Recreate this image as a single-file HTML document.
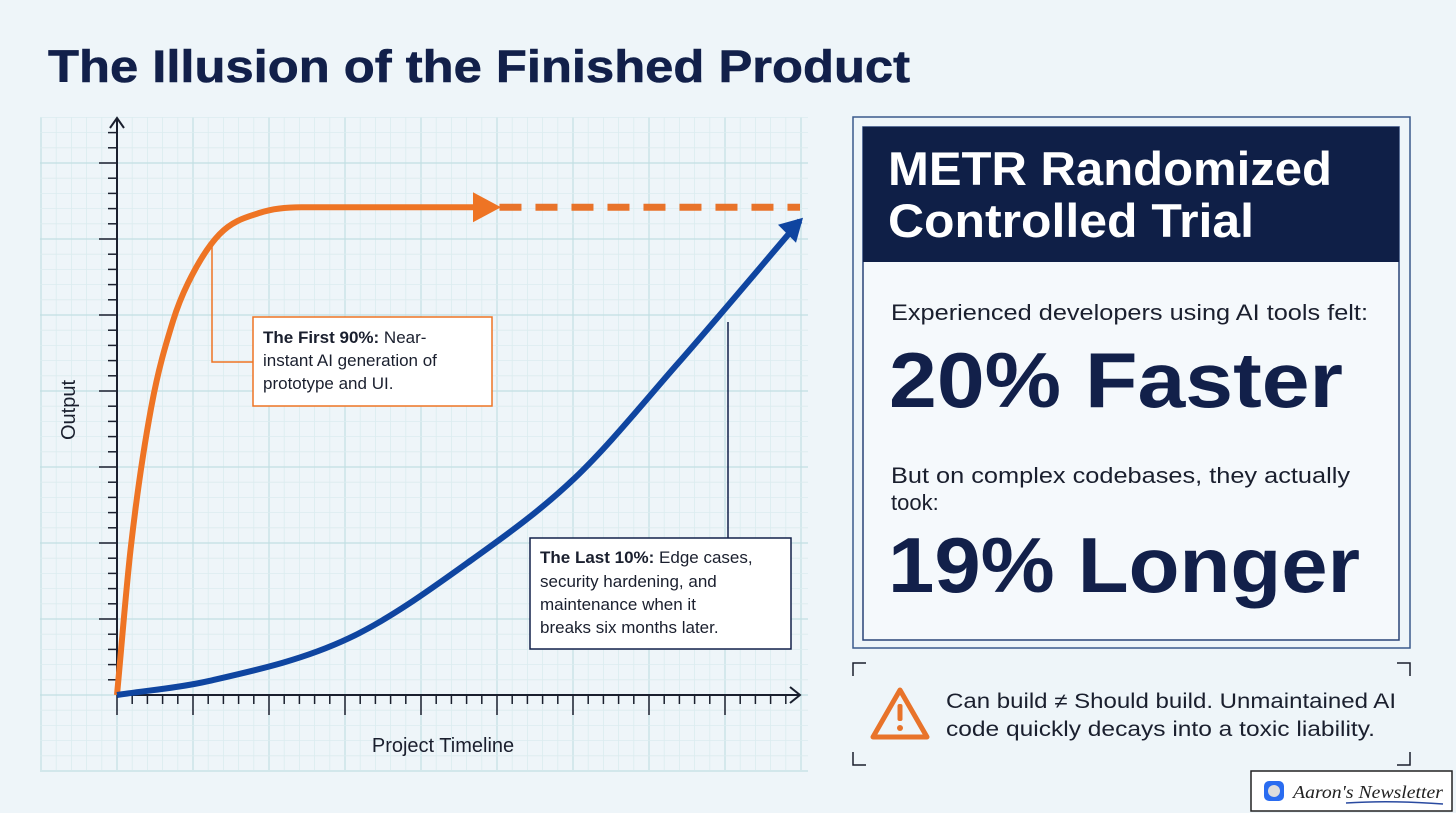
<!DOCTYPE html>
<html><head><meta charset="utf-8">
<style>
html,body{margin:0;padding:0;background:#eef5f9;}
svg{display:block;font-family:"Liberation Sans",sans-serif;}
</style></head>
<body>
<svg id="chart" width="1456" height="813" viewBox="0 0 1456 813" xmlns="http://www.w3.org/2000/svg">
<rect width="1456" height="813" fill="#eef5f9"/>
<text x="48" y="82" font-size="45" font-weight="bold" fill="#12204a" stroke="#12204a" stroke-width="0.6" textLength="862" lengthAdjust="spacingAndGlyphs">The Illusion of the Finished Product</text>
<g id="grid"></g>
<g id="marks"></g>

<rect x="853" y="117" width="557" height="531" fill="none" stroke="#3a5a8c" stroke-width="1.5"/>
<rect x="863" y="127" width="536" height="513" fill="#f5f9fc" stroke="#2a4478" stroke-width="1.5"/>
<rect x="863" y="127" width="536" height="135" fill="#0f1f47"/>
<text x="888" y="185" font-size="47" font-weight="bold" fill="#fff" textLength="444" lengthAdjust="spacingAndGlyphs">METR Randomized</text>
<text x="888" y="237" font-size="47" font-weight="bold" fill="#fff" textLength="366" lengthAdjust="spacingAndGlyphs">Controlled Trial</text>
<text x="891" y="320" font-size="22" fill="#1a1f2e" textLength="477" lengthAdjust="spacingAndGlyphs">Experienced developers using AI tools felt:</text>
<text x="889" y="407" font-size="78" font-weight="bold" fill="#12204a" textLength="454" lengthAdjust="spacingAndGlyphs">20% Faster</text>
<text x="891" y="483" font-size="22" fill="#1a1f2e" textLength="459" lengthAdjust="spacingAndGlyphs">But on complex codebases, they actually</text>
<text x="891" y="510" font-size="22" fill="#1a1f2e">took:</text>
<text x="888" y="592" font-size="78" font-weight="bold" fill="#12204a" textLength="472" lengthAdjust="spacingAndGlyphs">19% Longer</text>

<g stroke="#1a1f2e" stroke-width="1.5" fill="none">
<path d="M853,676 V663 H866"/><path d="M1397,663 H1410 V676"/>
<path d="M853,752 V765 H866"/><path d="M1397,765 H1410 V752"/>
</g>
<g>
<path d="M900,690 L927,737 L873,737 Z" fill="none" stroke="#e8732a" stroke-width="5" stroke-linejoin="round"/>
<rect x="897.5" y="704" width="5" height="17" rx="2" fill="#e8732a"/>
<circle cx="900" cy="728" r="3" fill="#e8732a"/>
</g>
<text x="946" y="708" font-size="21" fill="#1a1f2e" textLength="450" lengthAdjust="spacingAndGlyphs">Can build ≠ Should build. Unmaintained AI</text>
<text x="946" y="736" font-size="21" fill="#1a1f2e" textLength="429" lengthAdjust="spacingAndGlyphs">code quickly decays into a toxic liability.</text>

<g>
<rect x="1251" y="771" width="201" height="40" fill="#fff" stroke="#222" stroke-width="1.5"/>
<rect x="1264" y="781" width="20" height="20" rx="5" fill="#2a6cf0"/>
<circle cx="1274" cy="791" r="6" fill="#ddd"/>
<text x="1293" y="798" font-size="18" font-style="italic" font-family="Liberation Serif, serif" fill="#222" textLength="150" lengthAdjust="spacingAndGlyphs">Aaron's Newsletter</text>
<path d="M1346,803 Q1390,800 1443,804" stroke="#2a4aa0" stroke-width="1.5" fill="none"/>
</g>
</svg>
<script>
const timeTicks=[0,1,2,3,4,5,6,7,8,9,10];
const orangeT=[0,0.2,0.5,0.82,1.04,1.5,2.1,2.7,5.3];
const orangeV=[0,27,53,69,76,85,89,90,90];
const blueT=[0,1.35,3.4,5.2,6.7,8.2,10];
const blueV=[0,2.6,10.5,25,40,61,87.5];
const dashedT=[5.6,10];
const dashedV=[90,90];

const NS="http://www.w3.org/2000/svg";
const X0=117,X1=800,Y0=695,YTOP=153;
const xs=t=>X0+(X1-X0)*t/10;
const ys=v=>Y0-(Y0-YTOP)*v/100;
function mk(tag,attrs,parent){const e=document.createElementNS(NS,tag);for(const k in attrs)e.setAttribute(k,attrs[k]);parent.appendChild(e);return e;}
const grid=document.getElementById('grid');
const marks=document.getElementById('marks');
for(let x=X0-76;x<=810;x+=15.2){const major=Math.abs(((x-X0)/76)-Math.round((x-X0)/76))<0.01;
 const l=mk('line',{x1:x,y1:117,x2:x,y2:770,stroke:major?'#c2dfe3':'#dbecef','stroke-width':major?1.2:0.8},grid);
 }
for(let y=Y0+76;y>=112;y-=15.2){const major=Math.abs(((Y0-y)/76)-Math.round((Y0-y)/76))<0.01;
 const l=mk('line',{x1:40,y1:y,x2:808,y2:y,stroke:major?'#c2dfe3':'#dbecef','stroke-width':major?1.2:0.8},grid);
 }
const ax=mk('path',{d:`M${X0},${Y0} H${X1} M${X1-10},${Y0-8} L${X1},${Y0} L${X1-10},${Y0+8}`,stroke:'#1a1f2e','stroke-width':2,fill:'none'},marks);

const ay=mk('path',{d:`M${X0},${Y0} V118 M${X0-7},128 L${X0},118 L${X0+7},128`,stroke:'#1a1f2e','stroke-width':2,fill:'none'},marks);

for(let i=0;i<=45;i++){const x=X0+i*15.2;if(x>X1)break;
 const tk=mk('line',{x1:x,y1:Y0,x2:x,y2:Y0+(i%5===0?20:9),stroke:'#1a1f2e','stroke-width':1.5},marks);
 }
for(let y=Y0-15.2;y>125;y-=15.2){const maj=Math.abs(((Y0-y)/76)-Math.round((Y0-y)/76))<0.01;
 const tk=mk('line',{x1:maj?X0-18:X0-9,y1:y,x2:X0,y2:y,stroke:'#1a1f2e','stroke-width':1.5},marks);
 }
function smooth(T,V){const x=T.map(xs),y=V.map(ys),n=x.length;const d=[],m=[];
 for(let i=0;i<n-1;i++)d.push((y[i+1]-y[i])/(x[i+1]-x[i]));
 m[0]=d[0];m[n-1]=d[n-2];
 for(let i=1;i<n-1;i++){m[i]=(d[i-1]*d[i]<=0)?0:(d[i-1]+d[i])/2;}
 for(let i=0;i<n-1;i++){if(d[i]===0){m[i]=0;m[i+1]=0;continue;}const a=m[i]/d[i],b=m[i+1]/d[i],s=a*a+b*b;if(s>9){const t=3/Math.sqrt(s);m[i]=t*a*d[i];m[i+1]=t*b*d[i];}}
 let p=`M${x[0]},${y[0]}`;
 for(let i=0;i<n-1;i++){const h=(x[i+1]-x[i])/3;p+=` C${x[i]+h},${y[i]+m[i]*h} ${x[i+1]-h},${y[i+1]-m[i+1]*h} ${x[i+1]},${y[i+1]}`;}
 return p;}
const dash=mk('line',{x1:xs(dashedT[0]),y1:ys(dashedV[0]),x2:xs(dashedT[1]),y2:ys(dashedV[1]),stroke:'#e8732a','stroke-width':7,'stroke-dasharray':'22 14'},marks);

const oc=mk('path',{d:smooth(orangeT,orangeV),stroke:'#ee7424','stroke-width':6,fill:'none','stroke-linejoin':'round'},marks);

const oe=orangeT.length-1;const ox=xs(orangeT[oe]),oy=ys(orangeV[oe]);
const oa=mk('path',{d:`M${ox-6},${oy-15} L${ox+22},${oy} L${ox-6},${oy+15} Z`,fill:'#ee7424'},marks);

const bc=mk('path',{d:smooth(blueT,blueV),stroke:'#0f45a0','stroke-width':6,fill:'none'},marks);

const be=blueT.length-1;const bx=xs(blueT[be]),by=ys(blueV[be]);
const ba=mk('path',{d:`M${bx+3},${by-3} L${bx-22},${by+4} L${bx-4},${by+22} Z`,fill:'#0f45a0'},marks);

const l1=mk('path',{d:'M212,243 V362 H253',stroke:'#ee7424','stroke-width':1.5,fill:'none'},marks);

const b1=mk('rect',{x:253,y:317,width:239,height:89,fill:'#fff',stroke:'#ee7424','stroke-width':1.5},marks);

const l2=mk('line',{x1:728,y1:322,x2:728,y2:538,stroke:'#12204a','stroke-width':1.5},marks);

const b2=mk('rect',{x:530,y:538,width:261,height:111,fill:'#fff',stroke:'#12204a','stroke-width':1.5},marks);

function txt(x,y,html,size,name,extra){const t=mk('text',Object.assign({x:x,y:y,'font-size':size,fill:'#1a1f2e'},extra||{}),marks);t.innerHTML=html;
 return t;}
txt(263,343,'<tspan font-weight="bold">The First 90%:</tspan> Near-',17,'first-90-text-1');
txt(263,366,'instant AI generation of',17,'first-90-text-2');
txt(263,389,'prototype and UI.',17,'first-90-text-3');
txt(540,563,'<tspan font-weight="bold">The Last 10%:</tspan> Edge cases,',17,'last-10-text-1');
txt(540,587,'security hardening, and',17,'last-10-text-2');
txt(540,610,'maintenance when it',17,'last-10-text-3');
txt(540,633,'breaks six months later.',17,'last-10-text-4');
txt(443,752,'Project Timeline',20,'x-axis-title',{'text-anchor':'middle'});
txt(0,0,'Output',20,'y-axis-title',{'text-anchor':'middle',transform:'translate(75,410) rotate(-90)'});
</script>
</body></html>
